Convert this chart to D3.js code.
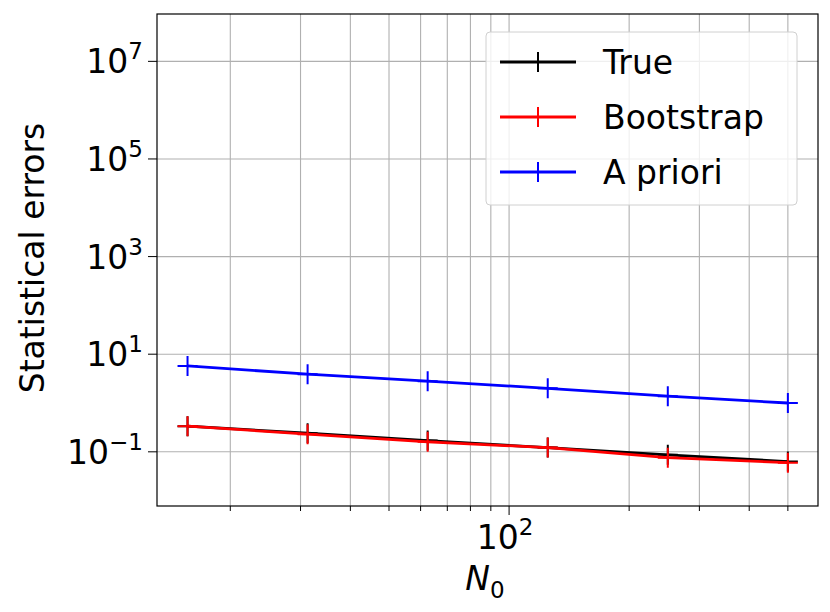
<!DOCTYPE html>
<html><head><meta charset="utf-8">
<script src="https://cdn.jsdelivr.net/npm/d3@7"></script>
<style>body{margin:0;background:#fff}text{font-family:"DejaVu Sans",sans-serif}</style>
</head><body><div class="graph"></div>
<script>
const N0 = [15.625, 31.25, 62.5, 125, 250, 500];
const trueErr = [0.336, 0.24, 0.17, 0.122, 0.087, 0.063];
const bootErr = [0.336, 0.23, 0.16, 0.122, 0.076, 0.060];
const aprioriErr = [5.75, 3.9, 2.8, 2.0, 1.38, 1.0];
const series = [
  {name: "True", values: trueErr, color: "black"},
  {name: "Bootstrap", values: bootErr, color: "red"},
  {name: "A priori", values: aprioriErr, color: "blue"}
];
const yTicks = [1e-1, 1e1, 1e3, 1e5, 1e7];
const yTickLabels = ["-1", "1", "3", "5", "7"];

const LEFT = 157, RIGHT = 818, TOP = 14, BOTTOM = 506;
var x = d3.scaleLog().domain([13.1, 595]).range([LEFT, RIGHT]);
var y = d3.scaleLog().domain([Math.pow(10, -2.11), Math.pow(10, 7.97)]).range([BOTTOM, TOP]);

var svg = d3.select(".graph").append("svg").attr("width", 830).attr("height", 612);

var xMinor = [20, 30, 40, 50, 60, 70, 80, 90, 100, 200, 300, 400, 500];
svg.append("g").selectAll("line").data(xMinor).join("line")
  .attr("x1", d => x(d)).attr("x2", d => x(d)).attr("y1", TOP).attr("y2", BOTTOM)
  .attr("stroke", "#b0b0b0").attr("stroke-width", 1.1);
svg.append("g").selectAll("line").data(yTicks).join("line")
  .attr("x1", LEFT).attr("x2", RIGHT).attr("y1", d => y(d)).attr("y2", d => y(d))
  .attr("stroke", "#b0b0b0").attr("stroke-width", 1.1);

svg.append("g").selectAll("line").data(xMinor).join("line")
  .attr("x1", d => x(d)).attr("x2", d => x(d)).attr("y1", BOTTOM).attr("y2", d => BOTTOM + (d === 100 ? 9 : 5))
  .attr("stroke", "black");
svg.append("g").selectAll("line").data(yTicks).join("line")
  .attr("x1", LEFT - 9).attr("x2", LEFT).attr("y1", d => y(d)).attr("y2", d => y(d))
  .attr("stroke", "black");

var xl = svg.append("text").attr("x", x(100) - 4).attr("y", 549).attr("text-anchor", "middle").attr("font-size", 33);
xl.append("tspan").text("10");
xl.append("tspan").attr("dy", -14).attr("font-size", 23).text("2");

svg.append("g").selectAll("text").data(yTicks).join("text")
  .attr("x", LEFT - 14).attr("y", d => y(d) + 12).attr("text-anchor", "end").attr("font-size", 33)
  .each(function (d, i) {
    var t = d3.select(this);
    t.append("tspan").text("10");
    t.append("tspan").attr("dy", -14).attr("font-size", 23).text(yTickLabels[i].replace("-", "\u2212"));
  });

var line = d3.line().x((d, i) => x(N0[i])).y(d => y(d));
series.forEach(function (s) {
  svg.append("path").attr("d", line(s.values)).attr("fill", "none")
    .attr("stroke", s.color).attr("stroke-width", 2.8);
  svg.append("g").selectAll("path").data(s.values).join("path")
    .attr("d", (d, i) => { var px = x(N0[i]), py = y(d); return "M" + (px - 10) + "," + py + "H" + (px + 10) + "M" + px + "," + (py - 10) + "V" + (py + 10); })
    .attr("stroke", s.color).attr("stroke-width", 2);
});

svg.append("rect").attr("x", LEFT).attr("y", TOP).attr("width", RIGHT - LEFT).attr("height", BOTTOM - TOP)
  .attr("fill", "none").attr("stroke", "black").attr("stroke-width", 1.2);

var lg = svg.append("g");
lg.append("rect").attr("x", 486).attr("y", 32).attr("width", 311).attr("height", 173).attr("rx", 4)
  .attr("fill", "white").attr("fill-opacity", 0.8).attr("stroke", "#d0d0d0");
series.forEach(function (s, i) {
  var ly = 62 + i * 55;
  lg.append("line").attr("x1", 500).attr("x2", 576).attr("y1", ly).attr("y2", ly).attr("stroke", s.color).attr("stroke-width", 2.8);
  lg.append("path").attr("d", "M528," + ly + "H548M538," + (ly - 10) + "V" + (ly + 10)).attr("stroke", s.color).attr("stroke-width", 2);
  lg.append("text").attr("x", 603).attr("y", ly + 12).attr("font-size", 33).text(s.name);
});

svg.append("text").attr("transform", "translate(44,258) rotate(-90)").attr("text-anchor", "middle")
  .attr("font-size", 33).text("Statistical errors");
var nl = svg.append("text").attr("x", 485).attr("y", 590).attr("text-anchor", "middle").attr("font-size", 33);
nl.append("tspan").attr("font-style", "italic").text("N");
nl.append("tspan").attr("dy", 8).attr("font-size", 23).text("0");
</script></body></html>
